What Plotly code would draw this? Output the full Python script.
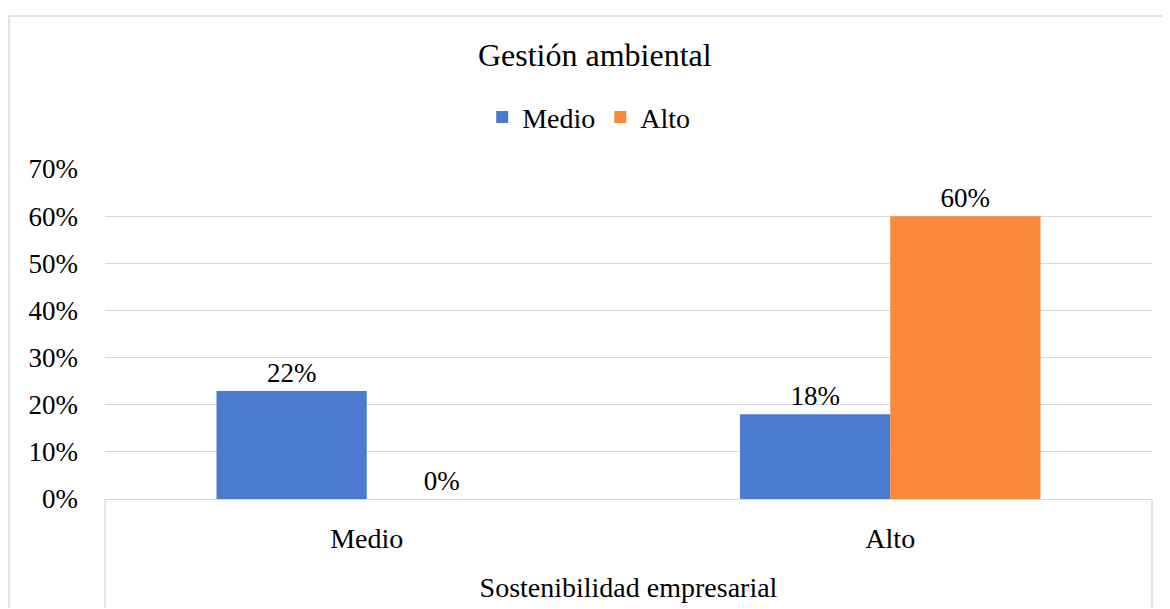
import plotly.graph_objects as go

categories = ["Medio", "Alto"]
medio_values = [0.229, 0.18]
alto_values = [0.0, 0.60]
medio_labels = ["22%", "18%"]
alto_labels = ["0%", "60%"]
y_ticks = [0, 0.1, 0.2, 0.3, 0.4, 0.5, 0.6, 0.7]
y_ticklabels = ["0%", "10%", "20%", "30%", "40%", "50%", "60%", "70%"]

FONT = "Liberation Serif, Times New Roman, serif"
GRID = "#D9D9D9"

fig = go.Figure()
fig.add_trace(go.Bar(
    name="Medio", x=categories, y=medio_values, text=medio_labels,
    textposition="outside", textfont=dict(size=27, color="#000000", family=FONT),
    marker=dict(color="#4A7BD0", line=dict(width=0)),
    cliponaxis=False,
))
fig.add_trace(go.Bar(
    name="Alto", x=categories, y=alto_values, text=alto_labels,
    textposition="outside", textfont=dict(size=27, color="#000000", family=FONT),
    marker=dict(color="#F98A3B", line=dict(width=0)),
    cliponaxis=False,
))

# page body adds an 8px offset; figure is sized to fill the rest of the window
fig.update_layout(
    width=1162, height=601,
    margin=dict(l=97, r=18, t=161, b=108),
    paper_bgcolor="white", plot_bgcolor="white",
    font=dict(family=FONT, size=27, color="#000000"),
    barmode="group", bargap=0.426, bargroupgap=0,
    title=dict(text="Gestión ambiental", x=0.505, xanchor="center",
               y=1 - 47 / 601, yanchor="middle", yref="container",
               font=dict(size=32, family=FONT, color="#000000")),
    legend=dict(orientation="h", x=0.462, xanchor="center", y=1.157, yanchor="middle",
                font=dict(size=28, family=FONT), itemwidth=30, traceorder="normal"),
    showlegend=True,
)
fig.update_yaxes(range=[0, 0.7], tickvals=y_ticks, ticktext=y_ticklabels,
                 showgrid=True, gridcolor=GRID, gridwidth=1.3, zeroline=False,
                 showline=False, ticks="", ticklabelstandoff=26,
                 tickfont=dict(size=27, family=FONT))
fig.update_xaxes(showgrid=False, showline=True, linecolor=GRID, linewidth=1.3,
                 ticks="", ticklabelstandoff=14, tickfont=dict(size=28, family=FONT),
                 title=dict(text="Sostenibilidad empresarial", standoff=24,
                            font=dict(size=28, family=FONT)))

# chart border and category-axis frame lines
fig.add_shape(type="line", xref="paper", yref="paper", x0=-0.0917, x1=1.1, y0=1.4639, y1=1.4639,
              line=dict(color=GRID, width=1.5))
fig.add_shape(type="line", xref="paper", yref="paper", x0=-0.0917, x1=-0.0917, y0=1.4639, y1=-0.33,
              line=dict(color=GRID, width=1.5))
fig.add_shape(type="line", xref="paper", yref="paper", x0=0, x1=0, y0=0, y1=-0.33,
              line=dict(color=GRID, width=1.3))
fig.add_shape(type="line", xref="paper", yref="paper", x0=1, x1=1, y0=0, y1=-0.33,
              line=dict(color=GRID, width=1.3))

fig.write_html("out.html")
